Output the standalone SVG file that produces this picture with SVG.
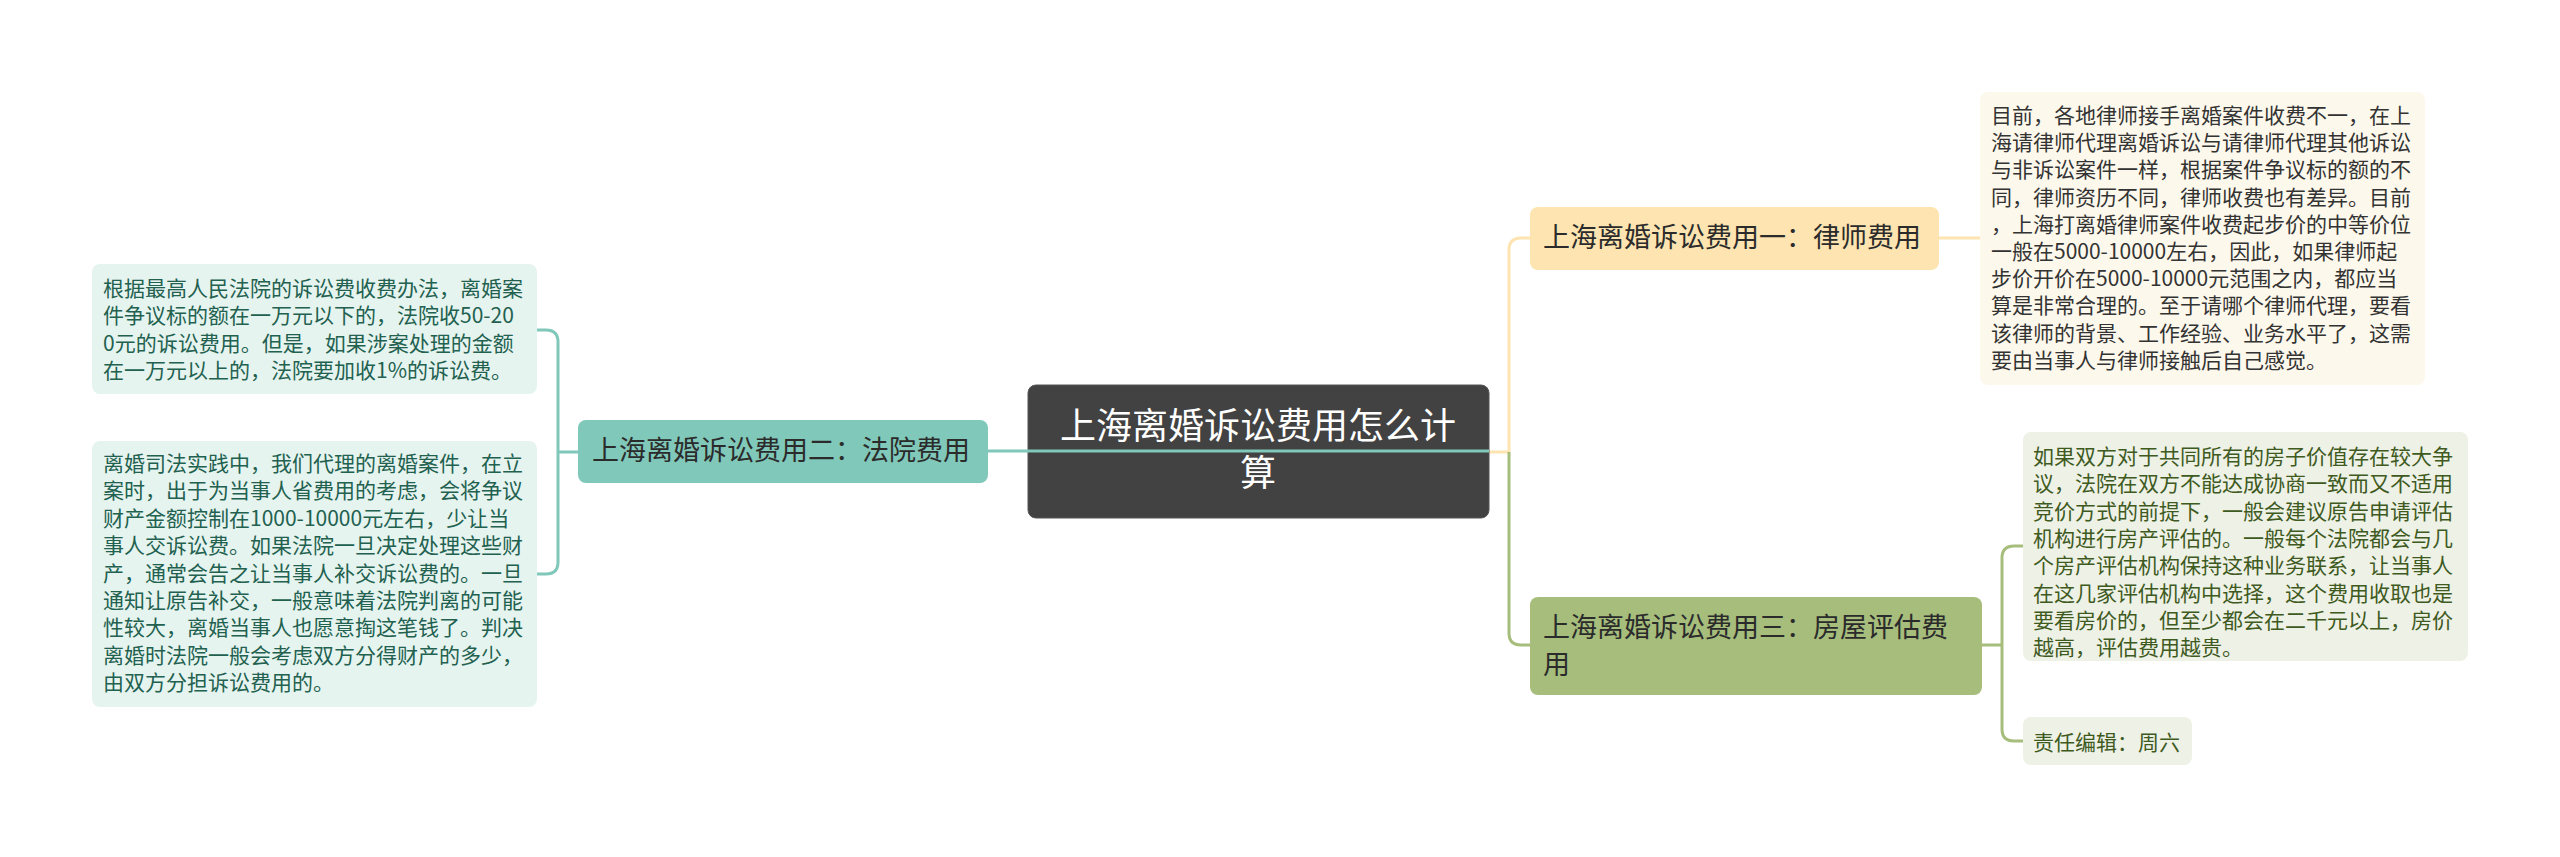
<svg xmlns="http://www.w3.org/2000/svg" width="2560" height="857" viewBox="0 0 2560 857">
<style>
text{font-family:"Noto Sans CJK SC","Noto Sans",sans-serif}
.conn{fill:none;stroke-width:3}
.t{stroke:#80c8b9}
.y{stroke:#fde4b0}
.g{stroke:#a6bd7c}
.main{font-size:27px;fill:#2b2b2b}
.det{font-size:21px}
</style>
<rect width="2560" height="857" fill="#ffffff"/>
<g id="connectors">
<path class="conn t" d="M578 452 H558 M558 452 V342 Q558 330 546 330 H537 M558 452 V562 Q558 574 546 574 H537"/>
<path class="conn y" d="M1489 452 H1509 V250 Q1509 238 1521 238 H1530"/>
<path class="conn g" d="M1509 452 V633 Q1509 645 1521 645 H1530"/>
<path class="conn y" d="M1939 238 H1980"/>
<path class="conn g" d="M1982 645 H2002 M2002 645 V558 Q2002 546 2014 546 H2023 M2002 645 V729 Q2002 741 2014 741 H2023"/>
</g>
<g id="center">
<rect x="1028" y="385" width="461" height="133" rx="8" fill="#424242" stroke="#555" stroke-width="1"/>
<text x="1258" y="439" font-size="36" fill="#ffffff" text-anchor="middle">上海离婚诉讼费用怎么计</text>
<text x="1258" y="486" font-size="36" fill="#ffffff" text-anchor="middle">算</text>
</g>
<path class="conn t" d="M988 451 H1489"/>
<g id="node-court">
<rect x="578" y="420" width="410" height="63" rx="8" fill="#80c8b9"/>
<text class="main" x="592" y="460">上海离婚诉讼费用二：法院费用</text>
</g>
<g id="node-lawyer">
<rect x="1530" y="207" width="409" height="63" rx="8" fill="#fde4b0"/>
<text class="main" x="1543" y="247">上海离婚诉讼费用一：律师费用</text>
</g>
<g id="node-house">
<rect x="1530" y="597" width="452" height="98" rx="8" fill="#a6bd7c"/>
<text class="main" x="1543" y="637">上海离婚诉讼费用三：房屋评估费</text>
<text class="main" x="1543" y="674">用</text>
</g>
<g id="detail-court-1">
<rect x="92" y="264" width="445" height="130" rx="8" fill="#e6f4f0"/>
<text class="det" fill="#22614f" x="103" y="296"><tspan x="103">根据最高人民法院的诉讼费收费办法，离婚案</tspan><tspan x="103" dy="27.4">件争议标的额在一万元以下的，法院收50-20</tspan><tspan x="103" dy="27.4">0元的诉讼费用。但是，如果涉案处理的金额</tspan><tspan x="103" dy="27.4">在一万元以上的，法院要加收1%的诉讼费。</tspan></text>
</g>
<g id="detail-court-2">
<rect x="92" y="441" width="445" height="266" rx="8" fill="#e6f4f0"/>
<text class="det" fill="#22614f" x="103" y="471"><tspan x="103">离婚司法实践中，我们代理的离婚案件，在立</tspan><tspan x="103" dy="27.4">案时，出于为当事人省费用的考虑，会将争议</tspan><tspan x="103" dy="27.4">财产金额控制在1000-10000元左右，少让当</tspan><tspan x="103" dy="27.4">事人交诉讼费。如果法院一旦决定处理这些财</tspan><tspan x="103" dy="27.4">产，通常会告之让当事人补交诉讼费的。一旦</tspan><tspan x="103" dy="27.4">通知让原告补交，一般意味着法院判离的可能</tspan><tspan x="103" dy="27.4">性较大，离婚当事人也愿意掏这笔钱了。判决</tspan><tspan x="103" dy="27.4">离婚时法院一般会考虑双方分得财产的多少，</tspan><tspan x="103" dy="27.4">由双方分担诉讼费用的。</tspan></text>
</g>
<g id="detail-lawyer">
<rect x="1980" y="92" width="445" height="293" rx="8" fill="#fdf8ec"/>
<text class="det" fill="#333333" x="1991" y="123"><tspan x="1991">目前，各地律师接手离婚案件收费不一，在上</tspan><tspan x="1991" dy="27.2">海请律师代理离婚诉讼与请律师代理其他诉讼</tspan><tspan x="1991" dy="27.2">与非诉讼案件一样，根据案件争议标的额的不</tspan><tspan x="1991" dy="27.2">同，律师资历不同，律师收费也有差异。目前</tspan><tspan x="1991" dy="27.2">，上海打离婚律师案件收费起步价的中等价位</tspan><tspan x="1991" dy="27.2">一般在5000-10000左右，因此，如果律师起</tspan><tspan x="1991" dy="27.2">步价开价在5000-10000元范围之内，都应当</tspan><tspan x="1991" dy="27.2">算是非常合理的。至于请哪个律师代理，要看</tspan><tspan x="1991" dy="27.2">该律师的背景、工作经验、业务水平了，这需</tspan><tspan x="1991" dy="27.2">要由当事人与律师接触后自己感觉。</tspan></text>
</g>
<g id="detail-house">
<rect x="2023" y="432" width="445" height="229" rx="8" fill="#eef1e5"/>
<text class="det" fill="#3e5a1f" x="2033" y="464"><tspan x="2033">如果双方对于共同所有的房子价值存在较大争</tspan><tspan x="2033" dy="27.3">议，法院在双方不能达成协商一致而又不适用</tspan><tspan x="2033" dy="27.3">竞价方式的前提下，一般会建议原告申请评估</tspan><tspan x="2033" dy="27.3">机构进行房产评估的。一般每个法院都会与几</tspan><tspan x="2033" dy="27.3">个房产评估机构保持这种业务联系，让当事人</tspan><tspan x="2033" dy="27.3">在这几家评估机构中选择，这个费用收取也是</tspan><tspan x="2033" dy="27.3">要看房价的，但至少都会在二千元以上，房价</tspan><tspan x="2033" dy="27.3">越高，评估费用越贵。</tspan></text>
</g>
<g id="detail-editor">
<rect x="2023" y="717" width="169" height="48" rx="8" fill="#eef1e5"/>
<text class="det" fill="#3e5a1f" x="2033" y="750">责任编辑：周六</text>
</g>
</svg>
